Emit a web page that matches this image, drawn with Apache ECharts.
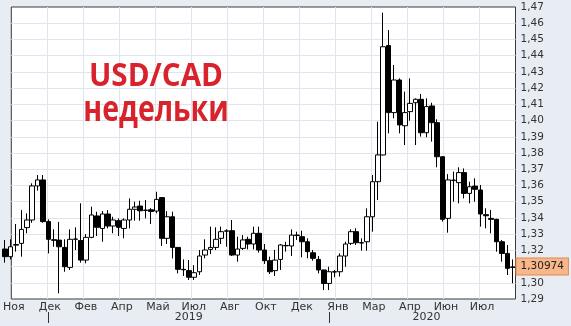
<!DOCTYPE html>
<html><head><meta charset="utf-8">
<script src="https://cdn.jsdelivr.net/npm/echarts@6/dist/echarts.min.js"></script>
<style>html,body{margin:0;padding:0;background:#e8edf3}#c{width:571px;height:326px}</style>
</head><body><div id="c"></div>
<script>
const dates = ['2018-11-12','2018-11-19','2018-11-26','2018-12-03','2018-12-10','2018-12-17','2018-12-24','2018-12-31',
'2019-01-07','2019-01-14','2019-01-21','2019-01-28','2019-02-04','2019-02-11','2019-02-18','2019-02-25',
'2019-03-04','2019-03-11','2019-03-18','2019-03-25','2019-04-01','2019-04-08','2019-04-15','2019-04-22','2019-04-29',
'2019-05-06','2019-05-13','2019-05-20','2019-05-27','2019-06-03','2019-06-10','2019-06-17','2019-06-24',
'2019-07-01','2019-07-08','2019-07-15','2019-07-22','2019-07-29','2019-08-05','2019-08-12','2019-08-19','2019-08-26',
'2019-09-02','2019-09-09','2019-09-16','2019-09-23','2019-09-30','2019-10-07','2019-10-14','2019-10-21','2019-10-28',
'2019-11-04','2019-11-11','2019-11-18','2019-11-25','2019-12-02','2019-12-09','2019-12-16','2019-12-23','2019-12-30',
'2020-01-06','2020-01-13','2020-01-20','2020-01-27','2020-02-03','2020-02-10','2020-02-17','2020-02-24',
'2020-03-02','2020-03-09','2020-03-16','2020-03-23','2020-03-30','2020-04-06','2020-04-13','2020-04-20','2020-04-27',
'2020-05-04','2020-05-11','2020-05-18','2020-05-25','2020-06-01','2020-06-08','2020-06-15','2020-06-22','2020-06-29',
'2020-07-06','2020-07-13','2020-07-20','2020-07-27','2020-08-03','2020-08-10','2020-08-17','2020-08-24','2020-08-31'];

const opens = [1.3208,1.3161,1.3232,1.3243,1.3340,1.3387,1.3597,1.3634,1.3377,1.3265,
1.3263,1.3218,1.3095,1.3268,1.3260,1.3140,1.3280,1.3412,1.3335,1.3424,
1.3350,1.3383,1.3335,1.3387,1.3453,1.3473,1.3446,1.3450,1.3442,1.3525,
1.3274,1.3407,1.3218,1.3083,1.3075,1.3034,1.3068,1.3171,1.3206,1.3218,
1.3274,1.3318,1.3321,1.3171,1.3212,1.3268,1.3239,1.3305,1.3202,1.3136,
1.3075,1.3144,1.3230,1.3227,1.3294,1.3284,1.3253,1.3185,1.3144,1.3079,
1.2996,1.3068,1.3068,1.3165,1.3243,1.3315,1.3247,1.3253,1.3407,1.3623,
1.3788,1.4462,1.4049,1.4250,1.3968,1.4055,1.4110,1.4131,1.3925,1.4090,
1.3987,1.3777,1.3397,1.3630,1.3617,1.3679,1.3551,1.3596,1.3572,1.3420,
1.3397,1.3391,1.3253,1.3181,1.3095];
const closes = [1.3161,1.3222,1.3236,1.3329,1.3387,1.3597,1.3634,1.3377,1.3268,1.3262,
1.3222,1.3099,1.3268,1.3270,1.3140,1.3280,1.3418,1.3342,1.3424,1.3350,
1.3387,1.3342,1.3387,1.3453,1.3467,1.3444,1.3448,1.3440,1.3514,1.3274,
1.3407,1.3218,1.3083,1.3080,1.3034,1.3062,1.3165,1.3202,1.3218,1.3268,
1.3315,1.3320,1.3171,1.3208,1.3264,1.3239,1.3305,1.3202,1.3136,1.3068,
1.3140,1.3233,1.3228,1.3294,1.3292,1.3253,1.3192,1.3151,1.3079,1.2996,
1.3068,1.3066,1.3165,1.3239,1.3315,1.3247,1.3245,1.3407,1.3623,1.3788,
1.4455,1.4049,1.4250,1.3973,1.4049,1.4106,1.4131,1.3925,1.4086,1.3987,
1.3777,1.3391,1.3634,1.3633,1.3679,1.3551,1.3592,1.3576,1.3424,1.3413,
1.3391,1.3253,1.3181,1.3089,1.30974];
const highs = [1.3264,1.3268,1.3362,1.3448,1.3428,1.3613,1.3664,1.3664,1.3391,1.3330,
1.3375,1.3268,1.3329,1.3342,1.3490,1.3300,1.3469,1.3438,1.3442,1.3448,
1.3407,1.3397,1.3397,1.3520,1.3500,1.3506,1.3510,1.3460,1.3561,1.3527,
1.3442,1.3438,1.3220,1.3144,1.3140,1.3109,1.3202,1.3268,1.3346,1.3342,
1.3346,1.3330,1.3387,1.3284,1.3294,1.3284,1.3346,1.3346,1.3239,1.3161,
1.3202,1.3239,1.3253,1.3329,1.3315,1.3321,1.3274,1.3202,1.3165,1.3081,
1.3099,1.3079,1.3181,1.3253,1.3330,1.3336,1.3274,1.3459,1.3664,1.3993,
1.4665,1.4558,1.4343,1.4260,1.4178,1.4260,1.4137,1.4164,1.4137,1.4110,
1.4008,1.3780,1.3670,1.3685,1.3712,1.3705,1.3623,1.3644,1.3603,1.3459,
1.3449,1.3395,1.3264,1.3233,1.3144];
const lows = [1.3124,1.3144,1.3192,1.3161,1.3305,1.3370,1.3568,1.3370,1.3181,1.3222,
1.2935,1.3068,1.3079,1.3202,1.3124,1.3120,1.3275,1.3288,1.3253,1.3335,
1.3305,1.3288,1.3274,1.3335,1.3383,1.3383,1.3397,1.3362,1.3428,1.3227,
1.3239,1.3150,1.3058,1.3042,1.3017,1.3017,1.3048,1.3151,1.3177,1.3202,
1.3239,1.3222,1.3165,1.3130,1.3202,1.3206,1.3206,1.3186,1.3116,1.3054,
1.3042,1.3079,1.3192,1.3165,1.3264,1.3157,1.3151,1.3136,1.3058,1.2955,
1.2955,1.3034,1.3038,1.3099,1.3233,1.3233,1.3198,1.3198,1.3315,1.3510,
1.3785,1.3921,1.4014,1.3921,1.3849,1.3999,1.3849,1.3901,1.3897,1.3870,
1.3712,1.3377,1.3309,1.3500,1.3490,1.3520,1.3490,1.3500,1.3346,1.3336,
1.3305,1.3192,1.3130,1.3048,1.2997];

const monthLabels = ['Ноя','Дек','Фев','Апр','Май','Июл','Авг','Окт','Дек','Янв','Мар','Апр','Июн','Июл',''];
const yearLabels = ['2019','2020'];
const yearTickIdx = [8, 60];
const yearLabelIdx = [34, 78];
const lastPrice = closes[closes.length - 1];
const titleLines = ['USD/CAD', 'недельки'];

const candleData = dates.map((d, i) => [opens[i], closes[i], lows[i], highs[i]]);
const font = 'DejaVu Sans';
const txt = '#333333';

const chart = echarts.init(document.getElementById('c'), null, {renderer: 'canvas'});
chart.setOption({
  animation: false,
  backgroundColor: '#e8edf3',
  grid: [
    {left: 2.5, right: 55.5, top: 7, bottom: 27, show: false},
    {left: 4, right: 55.5, top: 7, bottom: 27, show: true, backgroundColor: '#ffffff', borderColor: '#3a3a3a', borderWidth: 1}
  ],
  xAxis: [
    {type: 'category', gridIndex: 0, data: dates, boundaryGap: true, offset: 13,
     axisLine: {show: false},
     axisTick: {show: true, alignWithLabel: true, length: 11, interval: (i) => yearTickIdx.includes(i), lineStyle: {color: '#333'}},
     axisLabel: {show: true, margin: 0, interval: (i) => yearLabelIdx.includes(i),
       formatter: (v, i) => { const k = yearLabelIdx.indexOf(i); return k >= 0 ? yearLabels[k] : ''; },
       fontFamily: font, fontSize: 11, color: txt},
     splitLine: {show: false}},
    {type: 'value', gridIndex: 1, min: 0, max: 14, interval: 1,
     axisLine: {show: false}, axisTick: {show: false},
     axisLabel: {show: true, margin: 3, padding: [0, 0, 0, 5], fontFamily: font, fontSize: 11, color: txt,
       formatter: v => monthLabels[Math.round(v)] || ''},
     splitLine: {show: true, showMinLine: false, showMaxLine: false, lineStyle: {color: '#dfe5ee', width: 1}}}
  ],
  yAxis: [
    {type: 'value', gridIndex: 0, min: 1.29, max: 1.47, show: false},
    {type: 'value', gridIndex: 1, min: 1.29, max: 1.47, interval: 0.01, position: 'right',
     axisLine: {show: false}, axisTick: {show: false},
     axisLabel: {margin: 5, fontFamily: font, fontSize: 10.5, color: txt, formatter: v => v.toFixed(2).replace('.', ',')},
     splitLine: {show: true, showMinLine: false, showMaxLine: false, lineStyle: {color: '#dfe5ee', width: 1}}}
  ],
  series: [{
    type: 'candlestick', xAxisIndex: 0, yAxisIndex: 0, data: candleData, barWidth: 5,
    itemStyle: {color: '#ffffff', color0: '#000000', borderColor: '#000000', borderColor0: '#000000', borderColorDoji: '#000000', borderWidth: 1},
    markLine: {
      symbol: 'none', silent: true,
      lineStyle: {color: 'rgba(0,0,0,0)', width: 1, type: 'solid'},
      data: [{yAxis: lastPrice}],
      label: {show: true, position: 'end', distance: 1, formatter: () => lastPrice.toFixed(5).replace('.', ','),
        fontFamily: font, fontSize: 10.5, color: '#222', backgroundColor: '#f8b68b', borderColor: '#e08a52', borderWidth: 1, padding: [3, 4, 2, 4]}
    }
  }],
  graphic: [
    {type: 'text', z: 20, x: 156, y: 77, scaleX: 0.925, scaleY: 1,
     style: {text: titleLines[0], fill: '#d8232c', font: 'bold 32px "Open Sans"', textAlign: 'center', textVerticalAlign: 'middle', verticalAlign: 'middle'}},
    {type: 'text', z: 20, x: 156, y: 111, scaleX: 0.89, scaleY: 1.1,
     style: {text: titleLines[1], fill: '#d8232c', font: 'bold 32px "Open Sans"', textAlign: 'center', textVerticalAlign: 'middle', verticalAlign: 'middle'}}
  ]
});
</script></body></html>
